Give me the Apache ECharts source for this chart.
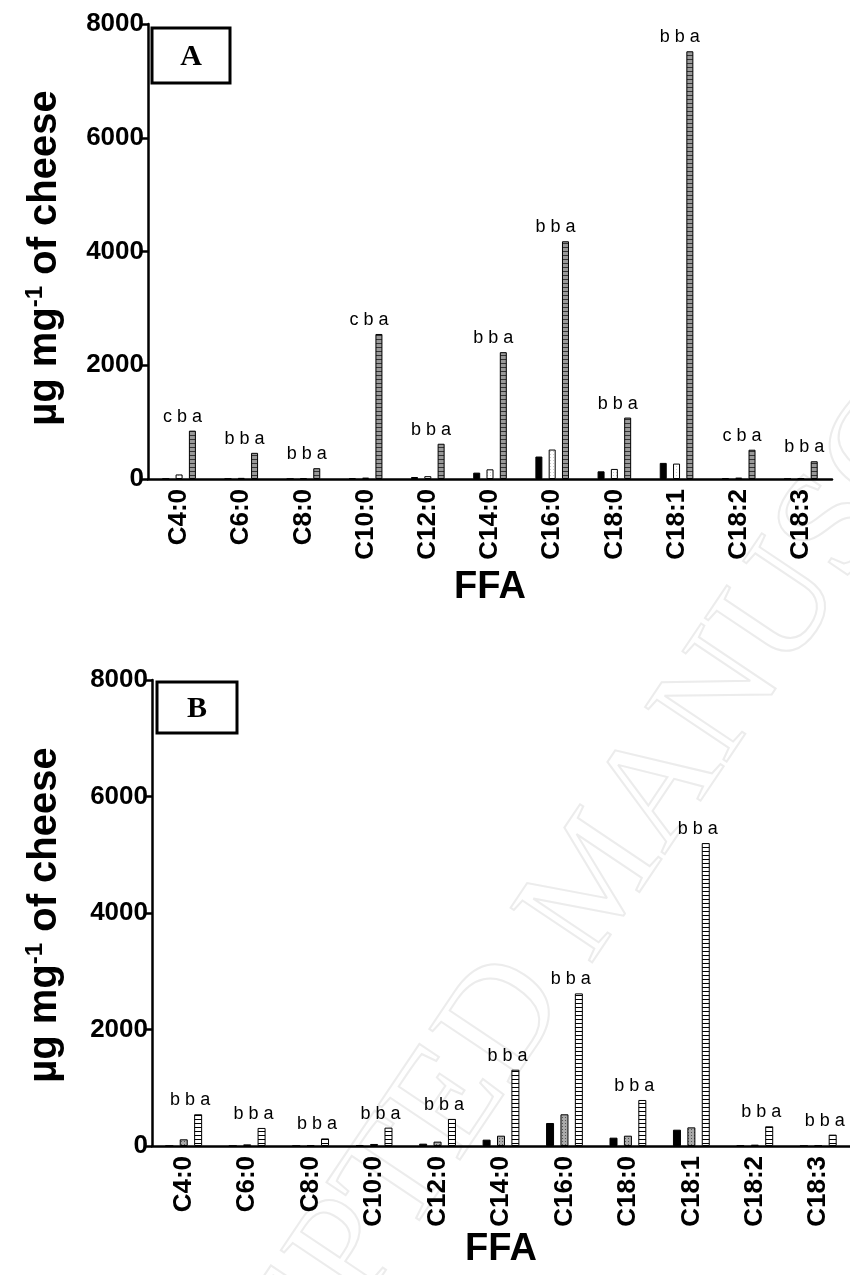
<!DOCTYPE html>
<html>
	<head>
		<meta charset="utf-8" />
		<title></title>
		<script src="https://cdn.jsdelivr.net/npm/echarts@6.0.0/dist/echarts.min.js"></script>
		<style>
			html,body{margin:0;padding:0;background:#fff;}
		</style>
	</head>
	<body>
	<div id="main" style="width:850px;height:1275px;"></div>

<script type="text/javascript">
/* 数据 */
var categories = ['C4:0','C6:0','C8:0','C10:0','C12:0','C14:0','C16:0','C18:0','C18:1','C18:2','C18:3'];
var yTicks = [0, 2000, 4000, 6000, 8000];

/* A */
var seriesA1 = [4, 5, 3, 15, 35, 112, 395, 135, 283, 12, 3];
var seriesA2 = [80, 20, 15, 25, 50, 170, 518, 177, 271, 25, 10];
var seriesA3 = [850, 460, 190, 2550, 620, 2230, 4180, 1080, 7520, 515, 312];
var lettersA = ['c b a','b b a','b b a','c b a','b b a','b b a','b b a','b b a','b b a','c b a','b b a'];

/* B */
var seriesB1 = [3, 3, 3, 15, 40, 109, 395, 143, 280, 12, 3];
var seriesB2 = [115, 28, 15, 35, 75, 177, 544, 177, 320, 23, 12];
var seriesB3 = [545, 310, 130, 315, 465, 1310, 2620, 790, 5200, 338, 195];
var lettersB = ['b b a','b b a','b b a','b b a','b b a','b b a','b b a','b b a','b b a','b b a','b b a'];

var FONT = 'Liberation Sans, Arial, sans-serif';

/* 图案填充 */
function stripes(bg, line){
	var c = document.createElement('canvas');
	c.width = 4; c.height = 4;
	var ctx = c.getContext('2d');
	ctx.fillStyle = bg; ctx.fillRect(0, 0, 4, 4);
	ctx.fillStyle = line; ctx.fillRect(0, 3, 4, 1);
	return {image: c, repeat: 'repeat'};
}
function dots(bg, dot){
	var c = document.createElement('canvas');
	c.width = 3; c.height = 3;
	var ctx = c.getContext('2d');
	ctx.fillStyle = bg; ctx.fillRect(0, 0, 3, 3);
	ctx.fillStyle = dot; ctx.fillRect(1, 1, 1, 1);
	return {image: c, repeat: 'repeat'};
}

function xAxisOf(idx){
	return {
		type: 'category', gridIndex: idx, data: categories,
		name: 'FFA', nameLocation: 'middle', nameGap: idx === 0 ? 90 : 84,
		nameTextStyle: {fontFamily: FONT, fontWeight: 'bold', fontSize: 38, color: '#000'},
		axisLine: {lineStyle: {color: '#000', width: 2.5}},
		axisTick: {alignWithLabel: true, length: 6, lineStyle: {color: '#000', width: 2.5}},
		axisLabel: {interval: 0, rotate: 90, margin: 10, fontFamily: FONT, fontWeight: 'bold', fontSize: 26, color: '#000'},
		splitLine: {show: false}
	};
}
function yAxisOf(idx){
	return {
		type: 'value', gridIndex: idx, min: yTicks[0], max: yTicks[yTicks.length - 1], interval: 2000,
		axisLine: {show: true, lineStyle: {color: '#000', width: 2.5}},
		axisTick: {show: true, length: 7, lineStyle: {color: '#000', width: 2.5}},
		axisLabel: {margin: 4, fontFamily: FONT, fontWeight: 'bold', fontSize: 26, color: '#000',
			formatter: function(v){ return String(v); }},
		splitLine: {show: false}
	};
}
function barSeries(idx, data, color, width, gap, letters, off){
	var s = {
		type: 'bar', xAxisIndex: idx, yAxisIndex: idx, data: data,
		barWidth: width, barGap: gap,
		itemStyle: {color: color, borderColor: '#000', borderWidth: 1},
		animation: false
	};
	if(letters){
		s.label = {
			show: true, position: 'top', distance: 5, offset: [off, 0],
			formatter: function(p){ return letters[p.dataIndex]; },
			fontFamily: FONT, fontSize: 18, color: '#000'
		};
	}
	return s;
}

function yTitle(x, y){
	return {
		type: 'text', x: x, y: y, rotation: Math.PI / 2,
		style: {
			text: '{a|µg mg}{s|-1}{a| of cheese}',
			align: 'center', verticalAlign: 'middle',
			rich: {
				a: {fontFamily: FONT, fontWeight: 'bold', fontSize: 40, lineHeight: 44, fill: '#000'},
				s: {fontFamily: FONT, fontWeight: 'bold', fontSize: 24, lineHeight: 26, verticalAlign: 'top', fill: '#000'}
			}
		}
	};
}
function panelBox(x, y, w, h, letter){
	return [
		{type: 'rect', shape: {x: x, y: y, width: w, height: h}, style: {fill: '#fff', stroke: '#000', lineWidth: 3}, z: 10},
		{type: 'text', x: x + w / 2, y: y + h / 2 + 2, z: 11, style: {text: letter, align: 'center', verticalAlign: 'middle', font: 'bold 30px "Liberation Serif", "Times New Roman", serif', fill: '#000'}}
	];
}

var chart = echarts.init(document.getElementById('main'));
var option = {
	backgroundColor: '#fff',
	animation: false,
	grid: [
		{left: 148, top: 24, width: 684, height: 455},
		{left: 152, top: 680, width: 698, height: 466}
	],
	xAxis: [xAxisOf(0), xAxisOf(1)],
	yAxis: [yAxisOf(0), yAxisOf(1)],
	series: [
		barSeries(0, seriesA1, '#000', 7, '90%'),
		barSeries(0, seriesA2, dots('#fff', '#ccc'), 7, '90%'),
		barSeries(0, seriesA3, stripes('#999', '#333'), 7, '90%', lettersA, -10),
		barSeries(1, seriesB1, '#000', 8, '80%'),
		barSeries(1, seriesB2, dots('#aaa', '#555'), 8, '80%'),
		barSeries(1, seriesB3, stripes('#fff', '#000'), 8, '80%', lettersB, -8)
	],
	graphic: [
		/* 水印 */
		{type: 'text', x: 600, y: 880, rotation: 0.98, z: 0, silent: true,
		 style: {text: 'ACCEPTED MANUSCRIPT', align: 'center', verticalAlign: 'middle',
		 font: '150px "Liberation Serif", "Times New Roman", serif', fill: 'rgba(0,0,0,0)', stroke: '#ececec', lineWidth: 2}},
		yTitle(45, 258),
		yTitle(45, 915)
	].concat(panelBox(152, 28, 78, 55, 'A')).concat(panelBox(157, 682, 80, 51, 'B'))
};
chart.setOption(option);
</script>

	</body>
</html>
